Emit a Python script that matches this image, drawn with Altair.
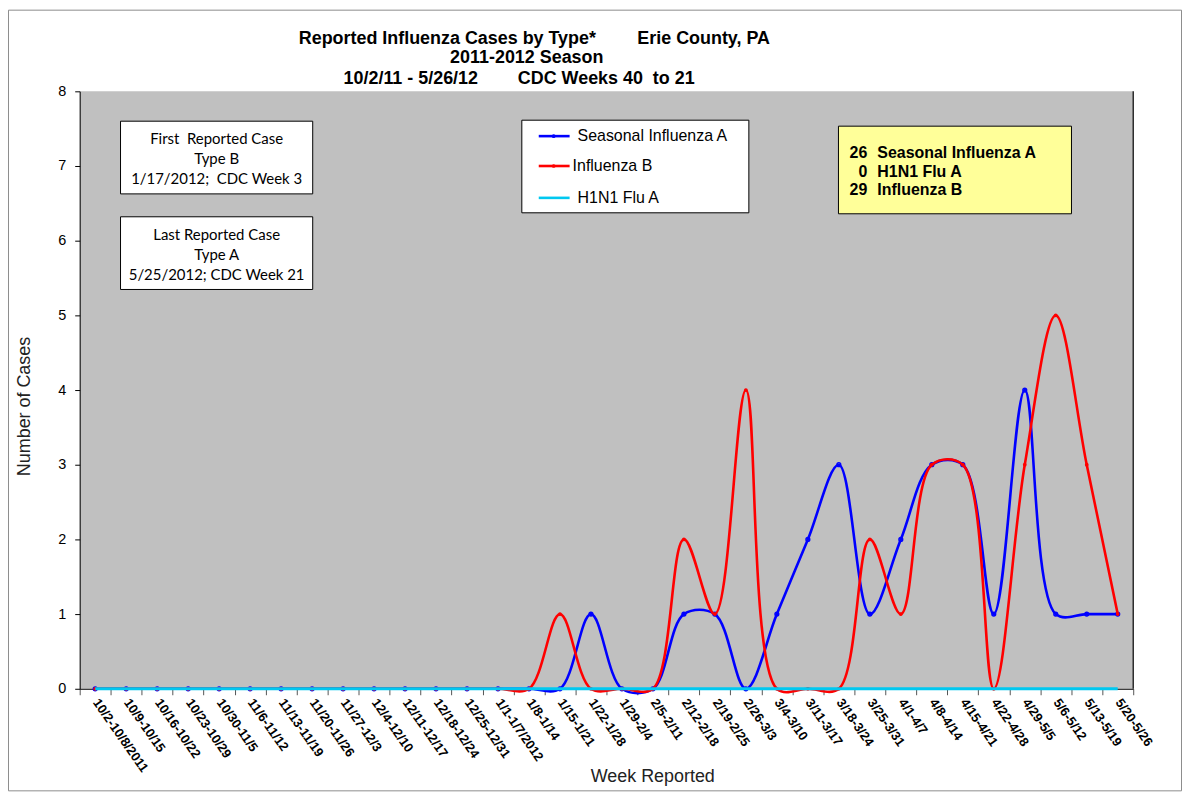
import altair as alt
import pandas as pd

weeks = ["10/2-10/8/2011", "10/9-10/15", "10/16-10/22", "10/23-10/29", "10/30-11/5",
         "11/6-11/12", "11/13-11/19", "11/20-11/26", "11/27-12/3", "12/4-12/10",
         "12/11-12/17", "12/18-12/24", "12/25-12/31", "1/1-1/7/2012", "1/8-1/14",
         "1/15-1/21", "1/22-1/28", "1/29-2/4", "2/5-2/11", "2/12-2/18", "2/19-2/25",
         "2/26-3/3", "3/4-3/10", "3/11-3/17", "3/18-3/24", "3/25-3/31", "4/1-4/7",
         "4/8-4/14", "4/15-4/21", "4/22-4/28", "4/29-5/5", "5/6-5/12", "5/13-5/19",
         "5/20-5/26"]
seasonal_a = [0, 0, 0, 0, 0, 0, 0, 0, 0, 0, 0, 0, 0, 0, 0,
              0, 1, 0, 0, 1, 1, 0, 1, 2, 3, 1, 2, 3, 3, 1, 4, 1, 1, 1]
influenza_b = [0, 0, 0, 0, 0, 0, 0, 0, 0, 0, 0, 0, 0, 0, 0,
               1, 0, 0, 0, 2, 1, 4, 0, 0, 0, 2, 1, 3, 3, 0, 3, 5, 3, 1]
h1n1_a = [0] * 34
series_names = ["Seasonal Influenza A", "Influenza B", "H1N1 Flu A"]
series_colors = ["#0000FF", "#FF0000", "#00C8F0"]
totals = [26, 29, 0]

rows = []
for name, vals in zip(series_names, [seasonal_a, influenza_b, h1n1_a]):
    for w, v in zip(weeks, vals):
        rows.append({"week": w, "series": name, "value": v})
df = pd.DataFrame(rows)

FONT = "Liberation Sans"
W, H = 1058, 600

x_enc = alt.X("week:O", sort=weeks, bandPosition=0.5,
              scale=alt.Scale(type="band", paddingInner=0, paddingOuter=0),
              axis=alt.Axis(title="Week Reported", labelAngle=55, labelAlign="left",
                            labelBaseline="middle", labelFont=FONT, labelFontSize=13,
                            labelFontWeight="bold", labelColor="black", labelPadding=5,
                            labelOverlap=False, tickBand="extent", tickSize=6,
                            tickColor="#555555", domainColor="black", grid=False,
                            titleX=575, titleY=88, titleFont=FONT, titleFontSize=18,
                            titleFontWeight="normal", titleColor="#222222",
                            titleBaseline="middle", titleAlign="center"))
y_enc = alt.Y("value:Q", scale=alt.Scale(domain=[0, 8], nice=False),
              axis=alt.Axis(title="Number of Cases", values=[0, 1, 2, 3, 4, 5, 6, 7, 8],
                            grid=False, labelFont=FONT, labelFontSize=14.5,
                            labelColor="black", labelPadding=9, tickSize=5,
                            tickColor="black", domainColor="black",
                            titleX=-55, titleY=316, titleAngle=270, titleFont=FONT,
                            titleFontSize=18, titleFontWeight="normal",
                            titleColor="#222222", titleBaseline="middle",
                            titleAlign="center"))

one = alt.Data(values=[{}])


def series_line(name, color, width):
    return alt.Chart(df).transform_filter(alt.datum.series == name).mark_line(
        interpolate="catmull-rom", color=color, strokeWidth=width
    ).encode(x=x_enc, y=y_enc)


def series_pts(name, color, filled):
    return alt.Chart(df).transform_filter(alt.datum.series == name).mark_point(
        color=color, filled=filled, size=14, strokeWidth=1.5, opacity=1
    ).encode(x=x_enc, y=y_enc)


def rect(x1, x2, y1, y2, fill, stroke, fo=1.0, sw=1):
    return alt.Chart(one).mark_rect(fill=fill, fillOpacity=fo, stroke=stroke,
                                    strokeWidth=sw).encode(
        x=alt.value(x1), x2=alt.value(x2), y=alt.value(y1), y2=alt.value(y2))


def text(t, x, y, size, weight="normal", align="left", font=FONT, color="black"):
    return alt.Chart(one).mark_text(text=t, fontSize=size, fontWeight=weight,
                                    align=align, baseline="middle", font=font,
                                    color=color).encode(
        x=alt.value(x), y=alt.value(y))


layers = []
# outer frame
layers.append(rect(-71.5, W + 48.5, -81.5, H + 102.5, "white", "#8c8c8c", fo=0, sw=1))

# data lines
layers.append(series_line(series_names[0], series_colors[0], 2.6))
layers.append(series_pts(series_names[0], series_colors[0], False))
layers.append(series_line(series_names[1], series_colors[1], 2.6))
layers.append(series_pts(series_names[1], series_colors[1], True))
layers.append(series_line(series_names[2], series_colors[2], 3))

# right plot border
layers.append(alt.Chart(one).mark_rule(color="black", strokeWidth=1.2).encode(
    x=alt.value(W), y=alt.value(0), y2=alt.value(H)))

# title
layers.append(text("Reported Influenza Cases by Type*", 220, -53, 18, "bold"))
layers.append(text("Erie County, PA", 560, -53, 18, "bold"))
layers.append(text("2011-2012 Season", 372, -33, 18, "bold"))
layers.append(text("10/2/11 - 5/26/12", 265, -12, 18, "bold"))
layers.append(text("CDC Weeks 40\u00a0 to 21", 440, -12, 18, "bold"))

# first / last case boxes
BOXF = "Lato"
layers.append(rect(41, 234, 30, 103, "white", "black"))
layers.append(text("First\u00a0 Reported Case", 137.5, 48, 15, align="center", font=BOXF))
layers.append(text("Type B", 137.5, 68, 15, align="center", font=BOXF))
layers.append(text("1/17/2012;\u00a0 CDC Week 3", 137.5, 88, 15, align="center", font=BOXF))
layers.append(rect(41, 234, 126, 199, "white", "black"))
layers.append(text("Last Reported Case", 137.5, 144, 15, align="center", font=BOXF))
layers.append(text("Type A", 137.5, 164, 15, align="center", font=BOXF))
layers.append(text("5/25/2012; CDC Week 21", 137.5, 184, 15, align="center", font=BOXF))

# legend box
layers.append(rect(444, 672, 29, 122, "white", "black"))
leg_y = [45, 75, 107]
leg_tx = [500, 495, 500]
for i, name in enumerate(series_names):
    layers.append(alt.Chart(one).mark_rule(color=series_colors[i], strokeWidth=2.6).encode(
        x=alt.value(461), x2=alt.value(492), y=alt.value(leg_y[i])))
    if i < 2:
        layers.append(alt.Chart(one).mark_point(color=series_colors[i], filled=True,
                                                size=14, opacity=1).encode(
            x=alt.value(476), y=alt.value(leg_y[i])))
    layers.append(text(name, leg_tx[i], leg_y[i], 16))

# totals box
layers.append(rect(762, 996, 35, 123, "#FFFF99", "black"))
tot_order = [0, 2, 1]
tot_y = [62, 81, 99]
for row, idx in enumerate(tot_order):
    layers.append(text(str(totals[idx]), 791, tot_y[row], 16, "bold", align="right"))
    layers.append(text(series_names[idx], 801, tot_y[row], 16, "bold"))

chart = alt.layer(*layers).properties(
    width=W, height=H,
    padding={"left": 72, "top": 82, "right": 50, "bottom": 104},
    autosize=alt.AutoSizeParams(type="none"),
    background="white",
).configure_view(fill="#C0C0C0", strokeWidth=0)

chart.save("out.html", embed_options={"renderer": "svg", "actions": False})
